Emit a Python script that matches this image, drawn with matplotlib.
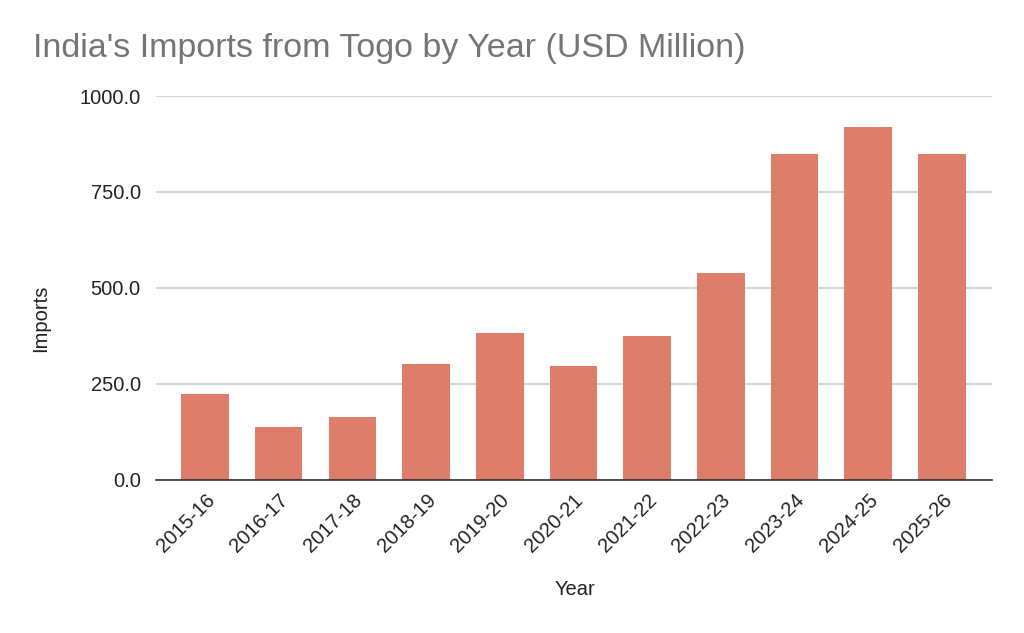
import matplotlib.pyplot as plt
import numpy as np

years = ['2015-16', '2016-17', '2017-18', '2018-19', '2019-20', '2020-21',
         '2021-22', '2022-23', '2023-24', '2024-25', '2025-26']
imports = [222, 137, 164, 302, 381, 297, 373, 538, 850, 920, 850]
yticks = [0, 250, 500, 750, 1000]

barColor = '#de7d6a'
plt.rcParams['font.family'] = ['Liberation Sans', 'DejaVu Sans']

fig = plt.figure(figsize=(10.24, 6.33), dpi=100)
ax = fig.add_axes([156/1024, 1 - 479.5/633, (992-156)/1024, (479.5-96)/633])

x = np.arange(len(years))
ax.bar(x, imports, width=0.646, color=barColor, zorder=2)

ax.set_xlim(-0.665, 10.68)
ax.set_ylim(0, 1000)
ax.set_yticks(yticks)
ax.set_yticklabels([f'{v:.1f}' for v in yticks], fontsize=14.5, color='#222222')
ax.set_xticks(x)
ax.set_xticklabels(years, rotation=45, ha='right', rotation_mode='anchor',
                   fontsize=14.5, color='#222222')
ax.tick_params(axis='both', length=0)
ax.tick_params(axis='y', pad=11)
ax.tick_params(axis='x', pad=8)

ax.grid(axis='y', color='#cccccc', linewidth=1.2, zorder=0)
for side in ['top', 'right', 'left']:
    ax.spines[side].set_visible(False)
ax.spines['bottom'].set_color('#333333')
ax.spines['bottom'].set_linewidth(1.2)
ax.spines['bottom'].set_zorder(3)

ax.set_ylabel('Imports', fontsize=14.5, color='#222222')
ax.yaxis.set_label_coords(-106/836, 0.42)
ax.set_xlabel('Year', fontsize=14.5, color='#222222')
ax.xaxis.set_label_coords((575-156)/836, -(580-479.5)/383.5)

fig.text(33/1024, 1 - 48/633, "India's Imports from Togo by Year (USD Million)",
         fontsize=24.5, color='#757575', va='center', ha='left')

plt.savefig('out.png', dpi=100)
